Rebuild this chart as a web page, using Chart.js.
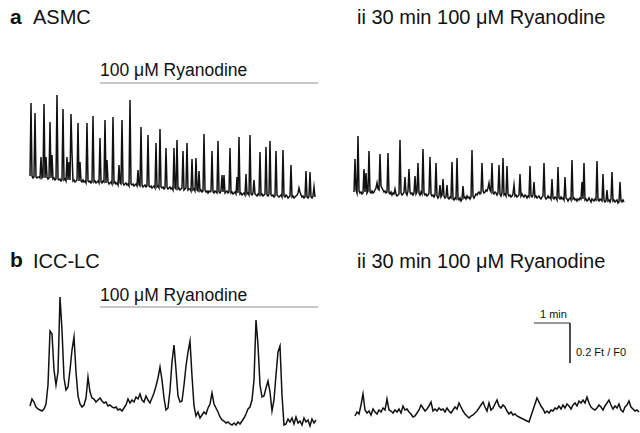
<!DOCTYPE html>
<html>
<head>
<meta charset="utf-8">
<script src="https://cdn.jsdelivr.net/npm/chart.js@4/dist/chart.umd.min.js"></script>
<style>
  html, body { margin: 0; padding: 0; background: #fff; }
  #fig { position: relative; width: 640px; height: 433px; overflow: hidden; background: #fff;
         font-family: "Liberation Sans", Arial, sans-serif; color: #111; }
  .lbl { position: absolute; white-space: nowrap; line-height: 1; }
  .panel { position: absolute; }
  .panel canvas { display: block; }
</style>
</head>
<body>
<div id="fig">
  <div class="lbl" style="left:10px; top:6px; font-size:21px; font-weight:bold;">a</div>
  <div class="lbl" style="left:33px; top:7px; font-size:20px;">ASMC</div>
  <div class="lbl" style="left:357px; top:7px; font-size:20px;">ii 30 min 100 μM Ryanodine</div>
  <div class="lbl" style="left:100px; top:62px; font-size:17.5px;">100 μM Ryanodine</div>

  <div class="lbl" style="left:10px; top:249px; font-size:21px; font-weight:bold;">b</div>
  <div class="lbl" style="left:33px; top:251px; font-size:20px;">ICC-LC</div>
  <div class="lbl" style="left:357px; top:251px; font-size:20px;">ii 30 min 100 μM Ryanodine</div>
  <div class="lbl" style="left:100px; top:287px; font-size:17.5px;">100 μM Ryanodine</div>

  <div class="lbl" style="left:540px; top:309px; font-size:11px;">1 min</div>
  <div class="lbl" style="left:576px; top:347px; font-size:11px;">0.2 Ft / F0</div>

  <div class="panel" style="left:28px; top:78px;"><canvas id="cA1" width="294" height="130"></canvas></div>
  <div class="panel" style="left:350px; top:120px;"><canvas id="cA2" width="280" height="88"></canvas></div>
  <div class="panel" style="left:28px; top:285px;"><canvas id="cB1" width="294" height="148"></canvas></div>
  <div class="panel" style="left:350px; top:300px;"><canvas id="cB2" width="290" height="133"></canvas></div>
</div>
<script>
// ---------- DATA (Ft/F0) ----------
// sample intervals (s)
const asmcDt = 5 / 3;
const iccDt = 10 / 3;

// a) ASMC, control -> 100 uM ryanodine added
const asmcControl = [
  1.000,1.365,1.000,.990,.995,1.315,.995,.990,.995,.995,
  .990,1.095,.990,.995,1.360,.990,1.095,.995,.985,.990,
  1.270,.990,1.105,.985,.990,.980,.985,1.405,.985,.980,
  .985,.975,.980,1.335,.980,.985,.975,1.095,.980,1.070,
  .980,1.310,1.115,.975,.980,.970,.975,.980,1.265,.975,
  1.070,.975,.970,.980,.970,.975,.965,1.265,.975,.970,
  .975,.965,.970,1.300,.970,.975,.965,.970,.975,.965,
  1.190,.970,.965,.975,.970,1.280,.965,1.080,.970,.960,
  .965,.970,.960,1.295,.965,.970,.960,.965,.955,1.055,
  .965,.960,1.280,.965,.955,.960,.965,.955,.960,.950,
  1.380,.960,.955,.960,.950,.955,.960,.950,1.030,.955,
  .950,1.245,.955,.945,.950,.955,.945,.950,1.205,.950,
  .945,.950,.940,.945,.950,.940,1.165,.945,.950,.940,
  1.235,.945,.940,.945,.935,.940,1.140,.945,.935,.940,
  .945,.935,.940,.930,1.140,.940,.935,1.180,.935,.940,
  .930,.935,.940,1.125,.930,.935,.940,1.165,.930,.935,
  .935,.925,1.085,.930,.935,.925,1.090,.930,.925,1.025,
  .925,.930,.920,.925,1.210,.930,.920,.925,.915,.925,
  .920,.925,1.125,.920,.915,.925,.920,.915,1.175,.920,
  .915,.925,1.005,.920,1.005,.915,.920,.925,.915,.920,
  1.140,.915,.920,.910,.915,.920,.910,.995,.915,1.195,
  .910,.915,.905,.910,.915,.905,1.010,.910,.915,.905,
  1.205,.910,.905,.915,.980,.910,.905,.900,.910,.905,
  1.120,.905,.910,.900,.905,.910,1.145,.905,.900,.910,
  1.175,.905,.900,.905,.895,.900,1.125,.905,.900,.895,
  .900,.905,.895,1.130,.900,.895,.905,.900,.890,.895,
  .900,1.055,.895,.900,.890,.895,.900,.905,.915,.940,
  .920,.905,.895,.900,.890,.895,1.025,.895,.890,.900,
  1.020,.895,.890,.900,.945,.895
];

// a ii) ASMC after 30 min 100 uM ryanodine
const asmcRyanodine = [
  1.000,1.165,1.010,.995,1.280,1.005,.995,1.000,.990,.995,
  1.115,1.000,1.095,.995,1.005,1.205,1.000,.995,1.005,.995,
  1.000,1.010,1.020,1.045,1.015,1.010,1.190,1.030,1.020,1.010,
  1.000,1.005,.995,1.000,1.195,.995,.990,1.000,.985,.995,
  .990,1.015,.990,.980,.985,.990,1.260,.995,.985,.990,
  1.000,1.075,.995,.985,1.005,1.115,1.000,.990,.995,.985,
  .995,1.080,.990,1.000,1.145,.995,.985,1.000,.990,1.215,
  .995,.985,.990,.980,.985,.995,1.175,.990,.980,.985,
  .975,.985,1.145,.980,.970,.980,1.035,.975,.985,1.065,
  .980,.970,.975,1.035,.970,.965,.975,.970,1.150,.965,
  .960,.970,.965,1.170,.965,.960,.970,.955,.965,1.030,
  .970,.975,.965,.980,.970,.975,.965,.975,1.210,.980,
  .970,.980,.990,.985,.995,1.000,.990,.995,1.145,1.005,
  .995,1.000,1.010,1.005,1.020,1.045,1.010,1.000,1.145,.995,
  .990,1.000,.995,.985,.995,1.135,.990,.980,.995,1.170,
  .985,.990,.980,1.130,.990,.980,.985,.975,.980,.990,
  1.035,.980,.985,.975,.980,.985,1.090,.980,.990,.980,
  .975,.985,.980,.970,.980,.975,1.130,.980,.975,.985,
  1.050,.975,.980,.970,.975,.980,.970,.965,.975,.980,
  1.145,.975,.965,.970,.980,.970,.975,.965,1.065,.970,
  .965,.975,.970,.960,1.125,.970,.965,.975,.965,.970,
  .960,1.075,.970,.965,.955,.965,.970,.960,1.160,.965,
  .970,.960,.965,.955,.965,.960,.970,.965,1.050,.965,
  1.145,.960,.965,.955,.960,.970,.960,.950,.965,.960,
  .955,.965,.960,1.155,.960,.955,.965,.960,.955,1.090,
  .960,.950,.955,1.010,.955,.960,.950,.965,1.100,.955,
  .960,.950,.955,.960,.945,.950,1.050,.955,.950,.960,
  .950
];

// b) ICC-LC, control -> 100 uM ryanodine added
const iccControl = [
  1.000,1.035,1.020,.995,.985,.980,.975,.985,1.010,1.105,
  1.375,1.360,1.180,1.105,1.170,1.545,1.380,1.140,1.080,1.095,
  1.180,1.280,1.345,1.170,1.050,1.010,.995,1.005,1.040,1.145,
  1.070,1.040,1.035,1.020,1.030,1.040,1.025,1.015,1.020,1.000,
  1.005,.995,.990,.995,.980,.985,.975,.990,1.005,1.035,
  1.015,1.030,1.020,1.045,1.035,1.060,1.030,1.020,1.050,1.030,
  1.015,1.040,1.065,1.100,1.140,1.195,1.130,1.040,.980,.990,
  1.080,1.220,1.305,1.180,1.050,1.020,1.025,1.105,1.200,1.270,
  1.325,1.150,1.000,.950,.970,.940,.955,.970,.960,.990,
  1.010,1.065,1.010,.990,.970,.945,.930,.925,.915,.920,
  .910,.905,.915,.905,.920,.910,.925,.940,.960,.985,
  .995,1.030,1.130,1.430,1.305,1.105,1.045,1.050,1.090,1.125,
  1.070,.975,1.030,1.155,1.270,1.300,1.055,.905,.910,.935,
  .920,.940,.910,.945,.915,.925,.905,.940,.920,.930,
  .900,.935,.915,.930
];

// b ii) ICC-LC after 30 min 100 uM ryanodine
const iccRyanodine = [
  .985,1.005,.995,1.040,1.095,1.015,1.000,1.010,.990,1.020,
  1.005,.995,1.015,1.005,1.025,1.015,1.070,1.015,1.010,1.000,
  1.015,1.005,1.020,1.000,1.035,1.015,1.020,1.005,.995,.980,
  .985,1.000,1.015,1.040,1.025,1.010,1.020,1.035,1.055,1.010,
  1.020,1.010,1.025,1.015,1.020,1.005,1.025,1.010,1.000,1.015,
  1.030,1.020,1.050,1.030,1.010,.995,.985,.975,.985,.990,
  1.000,1.010,1.025,1.040,1.055,1.030,1.010,1.050,1.015,1.025,
  1.045,1.065,1.035,1.025,1.040,1.030,1.010,.995,1.005,.990,
  .995,.985,.980,.975,.970,.965,.960,.955,.985,1.015,
  1.045,1.075,1.055,1.035,1.020,1.000,1.010,1.000,1.015,1.010,
  1.025,1.020,1.035,1.020,1.040,1.025,1.045,1.035,1.020,1.040,
  1.050,1.035,1.060,1.050,1.065,1.050,1.080,1.050,1.030,1.020,
  1.015,1.025,1.040,1.030,1.015,1.035,1.050,1.065,1.040,1.020,
  1.035,1.025,1.045,1.015,1.005,1.030,1.040,1.060,1.030,1.020,
  1.010,1.015,1.005
];

// drug application (s from start of trace)
const drugStart = [116.7];
const drugEnd = [480];

// scale bar: 1 min, 0.2 Ft/F0
const scaleTime = [60];
const scaleAmp = [0.2];

// ---------- DRAW ----------
const TRACE = '#111111';
function toPts(vals, dt) { return vals.map((v, i) => ({ x: i * dt, y: v })); }

function makeChart(id, datasets, xr, yr) {
  return new Chart(document.getElementById(id), {
    type: 'line',
    data: { datasets: datasets },
    options: {
      responsive: false, animation: false, devicePixelRatio: 1,
      layout: { padding: 0 },
      plugins: { legend: { display: false }, tooltip: { enabled: false } },
      elements: { point: { radius: 0 }, line: { tension: 0 } },
      scales: {
        x: { type: 'linear', display: false, min: xr[0], max: xr[1] },
        y: { type: 'linear', display: false, min: yr[0], max: yr[1] }
      }
    }
  });
}
function traceDs(vals, dt, w) {
  return { data: toPts(vals, dt), borderColor: TRACE, borderWidth: w, clip: false, pointRadius: 0,
           borderJoinStyle: 'miter' };
}
function drugDs(level) {
  return { data: [{ x: drugStart[0], y: level }, { x: drugEnd[0], y: level }],
           borderColor: '#8f8f8f', borderWidth: 1.2, clip: false, pointRadius: 0 };
}

makeChart('cA1', [traceDs(asmcControl, asmcDt, 1.5), drugDs(1.465)], [-3.333, 486.667], [0.84, 1.49]);
makeChart('cA2', [traceDs(asmcRyanodine, asmcDt, 1.5)], [-6.667, 460], [0.92, 1.36]);
makeChart('cB1', [traceDs(iccControl, iccDt, 1.5), drugDs(1.495)], [-3.333, 486.667], [0.865, 1.605]);

const sbT0 = 298.3, sbF0 = 1.45;
makeChart('cB2', [
  traceDs(iccRyanodine, iccDt, 1.5),
  { data: [{ x: sbT0, y: sbF0 }, { x: sbT0 + scaleTime[0], y: sbF0 }, { x: sbT0 + scaleTime[0], y: sbF0 - scaleAmp[0] }],
    borderColor: '#333', borderWidth: 1, clip: false, pointRadius: 0 }
], [-8.333, 475], [0.9, 1.565]);
</script>
</body>
</html>
